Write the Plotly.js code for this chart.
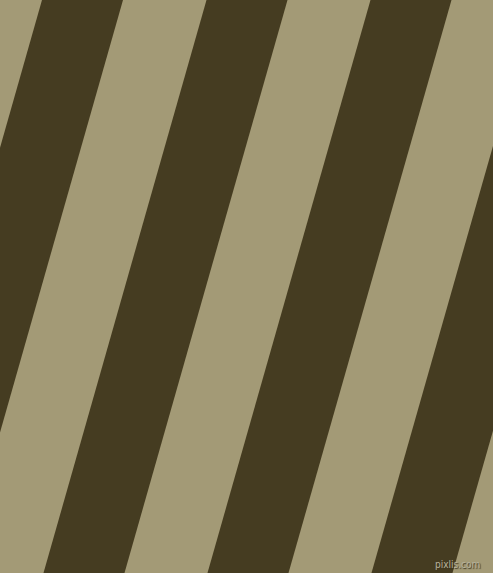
<!DOCTYPE html>
<html>
<head>
<meta charset="utf-8">
<script src="https://cdn.plot.ly/plotly-3.0.1.min.js"></script>
<style>
html, body { margin: 0; padding: 0; background: #a39a76; }
#plot { width: 493px; height: 573px; }
</style>
</head>
<body>
<div id="plot"></div>
<script>
// dark stripes: x where each stripe's left edge meets the top edge
var stripeTopX = [42, 206.5, 370.5, 534.5];
var stripeWidth = 81;     // horizontal width of a dark band
var stripeShift = 163;    // how far a band moves left from top to bottom
var lightColor = '#a39a76';
var darkColor = '#453c21';

var W = 493, H = 573;

var data = stripeTopX.map(function (a) {
    return {
        x: [a, a + stripeWidth, a + stripeWidth - stripeShift, a - stripeShift, a],
        y: [0, 0, H, H, 0],
        mode: 'lines',
        line: {width: 0, color: darkColor},
        fill: 'toself',
        fillcolor: darkColor,
        hoverinfo: 'skip',
        showlegend: false
    };
});

var layout = {
    width: W,
    height: H,
    margin: {l: 0, r: 0, t: 0, b: 0},
    paper_bgcolor: lightColor,
    plot_bgcolor: lightColor,
    xaxis: {range: [0, W], visible: false, fixedrange: true},
    yaxis: {range: [H, 0], visible: false, fixedrange: true},
    annotations: [{
        text: 'pixlis.com',
        x: 482, y: 564,
        xref: 'x', yref: 'y',
        xanchor: 'right', yanchor: 'middle',
        showarrow: false,
        font: {family: 'DejaVu Sans Condensed, DejaVu Sans', size: 10, color: '#b8b39c',
               shadow: '1px 1px 1px #3a3420'}
    }]
};

Plotly.newPlot('plot', data, layout, {displayModeBar: false, staticPlot: true});
</script>
</body>
</html>
